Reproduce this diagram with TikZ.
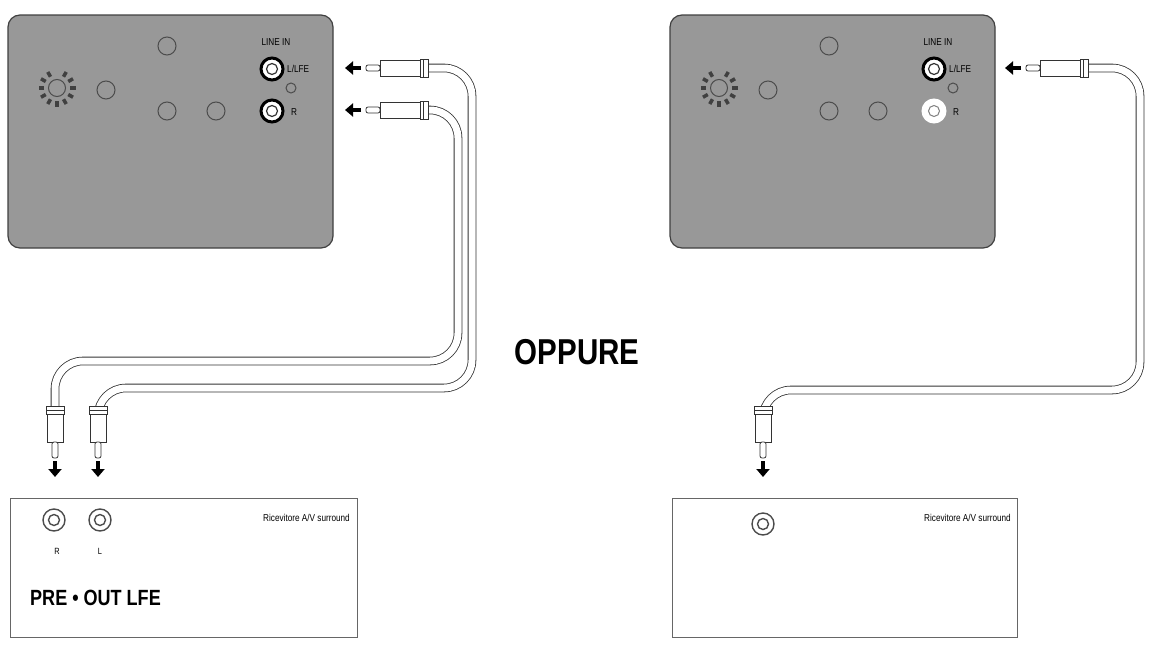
\documentclass[tikz,border=0pt]{standalone}
\usepackage{fontspec}
\setmainfont{Liberation Sans}[FakeStretch=0.82]
\usetikzlibrary{arrows.meta}
\definecolor{panel}{RGB}{152,152,152}
\begin{document}
\begin{tikzpicture}[x=1pt,y=-1pt,
  panelbox/.style={draw=black!75,line width=1.2pt,fill=panel,rounded corners=12pt},
  rbox/.style={draw=black!60,line width=0.8pt},
  knob/.style={draw=black!70,line width=1pt},
  cable/.style={draw=black!80,line width=0.8pt,double=white,double distance=7pt,rounded corners=28pt},
  arr/.style={line width=3.5pt,-{Triangle[length=8pt,width=13pt]}},
  lbl/.style={font=\fontsize{10}{11}\selectfont,inner sep=0pt},
  plugpart/.style={draw=black!80,line width=0.8pt,fill=white}]
\useasboundingbox (0,0) rectangle (1153,645);
% ---------- panels ----------
\foreach \ox/\nm in {0/L,662/R}{
 \begin{scope}[xshift=\ox]
  \draw[panelbox] (8,15) rectangle (333,248);
  \draw[knob] (57,88) circle (8.5);
  \foreach \a in {-60,-30,...,240}{\draw[line width=3.5pt,black!75] (57,88) ++(\a:13) -- ++(\a:5.5);}
  \draw[knob] (106,90) circle (9);
  \draw[knob] (167,46) circle (9);
  \draw[knob] (167,111) circle (9);
  \draw[knob] (216,111) circle (9);
  \draw[knob] (291,88) circle (5);
  \node[lbl] at (276,42) {LINE IN};
  \node[lbl,anchor=west] at (287,69) {L/LFE};
  \node[lbl,anchor=west] at (291,112) {R};
 \end{scope}}
% jacks
\draw[fill=white,draw=black,line width=3pt] (272,69) circle (11);
\draw[fill=white,draw=black!80,line width=1.2pt] (272,69) circle (5.5);
\draw[fill=white,draw=black,line width=3pt] (272,111) circle (11);
\draw[fill=white,draw=black!80,line width=1.2pt] (272,111) circle (5.5);
\draw[fill=white,draw=black,line width=3pt] (934,69) circle (11);
\draw[fill=white,draw=black!80,line width=1.2pt] (934,69) circle (5.5);
\draw[fill=white,draw=white,line width=3pt] (934,111) circle (11);
\draw[fill=white,draw=black!50,line width=1pt] (934,111) circle (5.5);
% ---------- receivers ----------
\draw[rbox] (10,498) rectangle (357,637);
\draw[rbox] (672,498) rectangle (1017,637);
\node[lbl,anchor=east] at (350,518) {Ricevitore A/V surround};
\node[lbl,anchor=east] at (1011,518) {Ricevitore A/V surround};
\foreach \p in {(54,520),(100,520),(763,524)}{
  \draw[knob,line width=1.4pt] \p circle (11);
  \draw[knob,line width=1.4pt] \p circle (5.5);}
\node[lbl,font=\fontsize{9}{10}\selectfont] at (57,551) {R};
\node[lbl,font=\fontsize{9}{10}\selectfont] at (100,551) {L};
\node[anchor=west,inner sep=0pt,font=\fontsize{22}{24}\bfseries] at (30,598) {PRE • OUT LFE};
\node[inner sep=0pt,font=\fontsize{36}{38}\bfseries] (op) at (577,352) {OPPURE};
% ---------- cables ----------
\coordinate (a1) at (428,68); \coordinate (b1) at (98,408);
\coordinate (a2) at (428,110); \coordinate (b2) at (55,408);
\coordinate (a3) at (1088,68); \coordinate (b3) at (763,408);
\draw[cable] (a1) -- (472,68) -- (472,388) -- (98,388) -- (b1);
\draw[cable] (a2) -- (458,110) -- (458,361) -- (55,361) -- (b2);
\draw[cable] (a3) -- (1140,68) -- (1140,390) -- (763,390) -- (b3);
% horizontal plugs
\foreach \y/\x in {68/0,110/0,68/660}{
 \begin{scope}[xshift=\x,yshift=-\y]
  \draw[plugpart,rounded corners=2pt] (366,-3) rectangle (380,3);
  \draw[plugpart] (380,-8) rectangle (420,8);
  \draw[plugpart] (420,-9) rectangle (428,9);
  \draw[black!80] (423,-9) -- (423,9);
 \end{scope}
 \draw[arr] (361+\x,\y) -- (345+\x,\y);}
% vertical plugs
\foreach \x in {55,98,763}{
  \draw[plugpart] (\x-9,406) rectangle (\x+9,414);
  \draw[black!80] (\x-9,410) -- (\x+9,410);
  \draw[plugpart] (\x-8,414) rectangle (\x+8,442);
  \draw[plugpart,rounded corners=2pt] (\x-3,442) rectangle (\x+3,458);
  \draw[arr] (\x,461) -- (\x,477);}
\end{tikzpicture}
\end{document}
